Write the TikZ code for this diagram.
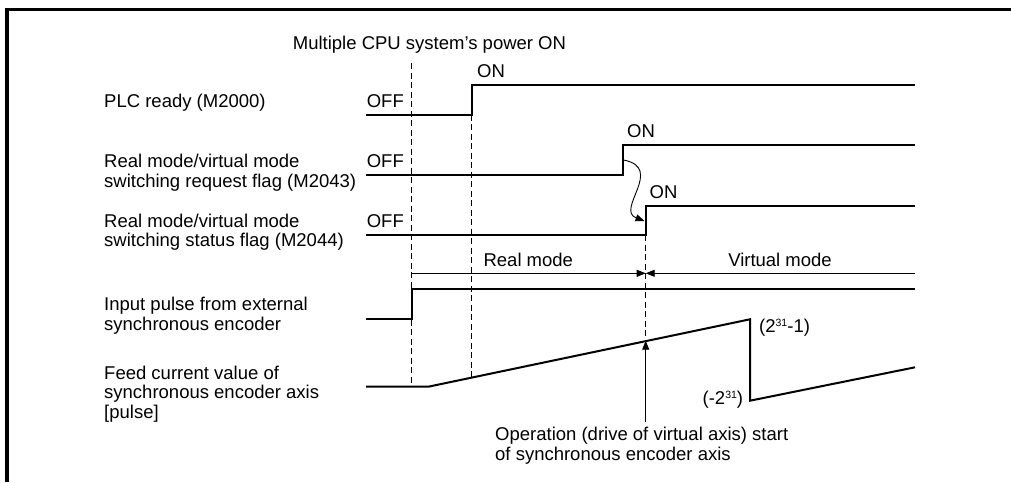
\documentclass[tikz,border=0pt]{standalone}
\usepackage{fontspec}
\setmainfont{Liberation Sans}
\usetikzlibrary{arrows.meta}
\newcommand{\supnum}[1]{\raisebox{5.6pt}{\fontsize{10.5pt}{10.5pt}\selectfont #1}}

\begin{document}
\begin{tikzpicture}[x=1pt, y=-1pt,
    every node/.style={font=\fontsize{18.5pt}{19.8pt}\selectfont, inner sep=0pt},
    label/.style={anchor=base west, align=left},
    signal/.style={line width=2pt},
    guide/.style={line width=0.9pt, dash pattern=on 6pt off 3.5pt},
    thinline/.style={line width=0.9pt},
    tip/.style={-{Triangle[length=9pt, width=7pt]}}]
    \useasboundingbox (0,0) rectangle (1011,482);

    % Frame
    \draw[line width=3.5pt] (7,482) -- (7,9.5) -- (1011,9.5);

    % Signal names (base = last line)
    \node[label] (plc) at (104,107.3) {PLC ready (M2000)};
    \node[label] (req) at (104,187.1) {Real mode/virtual mode\\switching request flag (M2043)};
    \node[label] (sts) at (104,246.8) {Real mode/virtual mode\\switching status flag (M2044)};
    \node[label] (inp) at (104,330.3) {Input pulse from external\\synchronous encoder};
    \node[label] (feed) at (104,418.6) {Feed current value of\\synchronous encoder axis\\{[pulse]}};

    % OFF / ON levels
    \node[anchor=base east] (off1) at (404,107.3) {OFF};
    \node[anchor=base east] (off2) at (404,167.3) {OFF};
    \node[anchor=base east] (off3) at (404,227.5) {OFF};
    \node[anchor=base west] (on1) at (477,77.5) {ON};
    \node[anchor=base west] (on2) at (627,137.5) {ON};
    \node[anchor=base west] (on3) at (649.5,198.5) {ON};

    % Time marks
    \coordinate (A) at (411.7,63);
    \coordinate (B) at (471.5,114.5);
    \coordinate (C) at (645.7,235.3);
    \node[anchor=base west] (pwr) at (292.7,49.3) {Multiple CPU system's power ON};

    % Signals
    \draw[signal] (366,114.5) -- (B) -- (471.5,84.7) -- (915,84.7);
    \draw[signal] (366,174.8) -- (623.3,174.8) -- (623.3,145) -- (915,145);
    \draw[signal] (366,235.3) -- (C) -- (645.7,206) -- (915,206);
    \draw[signal] (366,319.3) -- (411.7,319.3) -- (411.7,289) -- (915,289);
    \draw[signal] (366,386.7) -- (428.3,386.7) -- (750,319.3) coordinate (Fmax)
        -- (750,400.7) coordinate (Fmin) -- (915,367.3);

    % Dashed guides
    \coordinate (F1) at (411.7,386.7);
    \coordinate (F2) at (471.5,377.3);
    \coordinate (F3) at (645.7,340.7);
    \draw[guide] (A) -- (F1);
    \draw[guide] (B) -- (F2);
    \draw[guide] (C) -- (F3);

    % Request -> status
    \draw[thinline, tip] (623.5,160) .. controls (665,168) and (615,210) .. (644.5,221);

    % Mode spans
    \coordinate (M0) at (411.7,273.3);
    \coordinate (M1) at (645.7,273.3);
    \coordinate (M2) at (915,273.3);
    \draw[thinline, tip] (M0) -- (M1);
    \draw[thinline, tip] (M2) -- (M1);
    \node[anchor=base] (real) at (528.3,266) {Real mode};
    \node[anchor=base] (virt) at (780,266) {Virtual mode};

    % Limits of the feed value
    \node[anchor=base west] (umax) at (759,332) {(2\supnum{31}-1)};
    \node[anchor=base east] (umin) at (743.3,404) {(-2\supnum{31})};

    % Start of operation
    \coordinate (S0) at (645.7,421.7);
    \draw[thinline, tip] (S0) -- (F3);
    \node[label] (op) at (495,460.5) {Operation (drive of virtual axis) start\\of synchronous encoder axis};
\end{tikzpicture}
\end{document}
